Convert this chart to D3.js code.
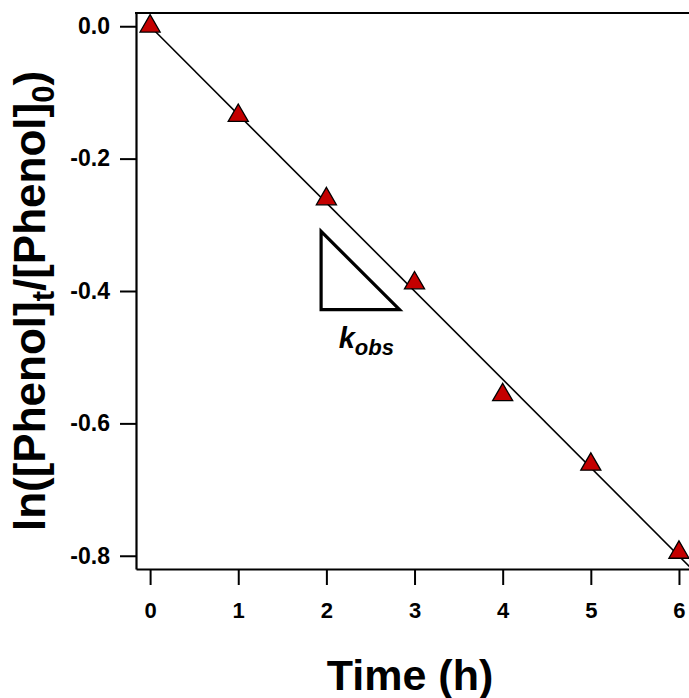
<!DOCTYPE html>
<html>
<head>
<meta charset="utf-8">
<script src="https://cdn.jsdelivr.net/npm/d3@7"></script>
<style>
  html, body { margin: 0; padding: 0; background: #fff; }
  svg { display: block; }
  text { font-family: "Liberation Sans", Arial, sans-serif; font-weight: bold; fill: #000; }
</style>
</head>
<body>
<script>
// ---- data ----
const times = [0, 1, 2, 3, 4, 5, 6];
const lnRatio = [0.0, -0.135, -0.261, -0.388, -0.557, -0.662, -0.795];
const fitT = [0, 6.2];
const fitV = [0.0, -0.827];
const xTicks = [0, 1, 2, 3, 4, 5, 6];
const yTicks = [0.0, -0.2, -0.4, -0.6, -0.8];
const xTitle = "Time (h)";

const W = 689, H = 698;
const svg = d3.select("body").append("svg").attr("width", W).attr("height", H);

const x = d3.scaleLinear().domain([-0.16, 6.25]).range([136, 701]);
const y = d3.scaleLinear().domain([0.02, -0.82]).range([13, 569]);

const [x0, x1] = x.range();
const [yTop, yBot] = y.range();

// x axis (bottom)
const xAxis = d3.axisBottom(x).tickValues(xTicks).tickFormat(d3.format("d"))
  .tickSizeInner(16).tickSizeOuter(0).tickPadding(17);
const gx = svg.append("g").attr("transform", `translate(0,${yBot})`).call(xAxis);
gx.select(".domain").attr("stroke", "#000").attr("stroke-width", 2.2);
gx.selectAll(".tick line").attr("stroke", "#000").attr("stroke-width", 2);
gx.selectAll(".tick text").style("font-size", "22px").style("font-family", "Liberation Sans, Arial, sans-serif").style("font-weight", "bold");

// y axis (left)
const yAxis = d3.axisLeft(y).tickValues(yTicks).tickFormat(d3.format(".1f"))
  .tickSizeInner(16).tickSizeOuter(0).tickPadding(10);
const gy = svg.append("g").attr("transform", `translate(${x0},0)`).call(yAxis);
gy.select(".domain").attr("stroke", "#000").attr("stroke-width", 2.2);
gy.selectAll(".tick line").attr("stroke", "#000").attr("stroke-width", 2);
gy.selectAll(".tick text").style("font-size", "23px").style("font-family", "Liberation Sans, Arial, sans-serif").style("font-weight", "bold")
  .text(d => d3.format(".1f")(d).replace("−", "-"));

// top border
svg.append("line").attr("x1", x0 - 1).attr("x2", x1).attr("y1", yTop).attr("y2", yTop)
  .attr("stroke", "#000").attr("stroke-width", 2.2);

// fit line
svg.append("path")
  .datum(fitT.map((t, i) => [t, fitV[i]]))
  .attr("d", d3.line().x(d => x(d[0])).y(d => y(d[1])))
  .attr("fill", "none").attr("stroke", "#000").attr("stroke-width", 1.6);

// data points (triangles)
svg.append("g").selectAll("path").data(times.map((t, i) => [t, lnRatio[i]])).join("path")
  .attr("transform", d => `translate(${x(d[0])},${y(d[1])})`)
  .attr("d", d3.symbol().type(d3.symbolTriangle).size(175))
  .attr("fill", "#c40000").attr("stroke", "#000").attr("stroke-width", 1.3);

// slope triangle annotation
const triPts = [[1.94, -0.31], [1.94, -0.428], [2.83, -0.428]];
svg.append("path")
  .attr("d", d3.line().x(d => x(d[0])).y(d => y(d[1]))(triPts) + "Z")
  .attr("fill", "none").attr("stroke", "#000").attr("stroke-width", 3.2).attr("stroke-linejoin", "miter");

const kt = svg.append("text").attr("x", x(2.14)).attr("y", y(-0.486))
  .style("font-style", "italic").style("font-size", "29px");
kt.append("tspan").text("k");
kt.append("tspan").attr("dy", 7).style("font-size", "22px").text("obs");

// axis titles
svg.append("text").attr("x", 410).attr("y", 690).attr("text-anchor", "middle")
  .style("font-size", "43px").text(xTitle);

const yt = svg.append("text").attr("transform", "translate(45,301) rotate(-90)")
  .attr("text-anchor", "middle").style("font-size", "44px");
yt.append("tspan").text("ln([Phenol]");
yt.append("tspan").attr("dy", 9).style("font-size", "31px").text("t");
yt.append("tspan").attr("dy", -9).text("/[Phenol]");
yt.append("tspan").attr("dy", 9).style("font-size", "31px").text("0");
yt.append("tspan").attr("dy", -9).text(")");
</script>
</body>
</html>
